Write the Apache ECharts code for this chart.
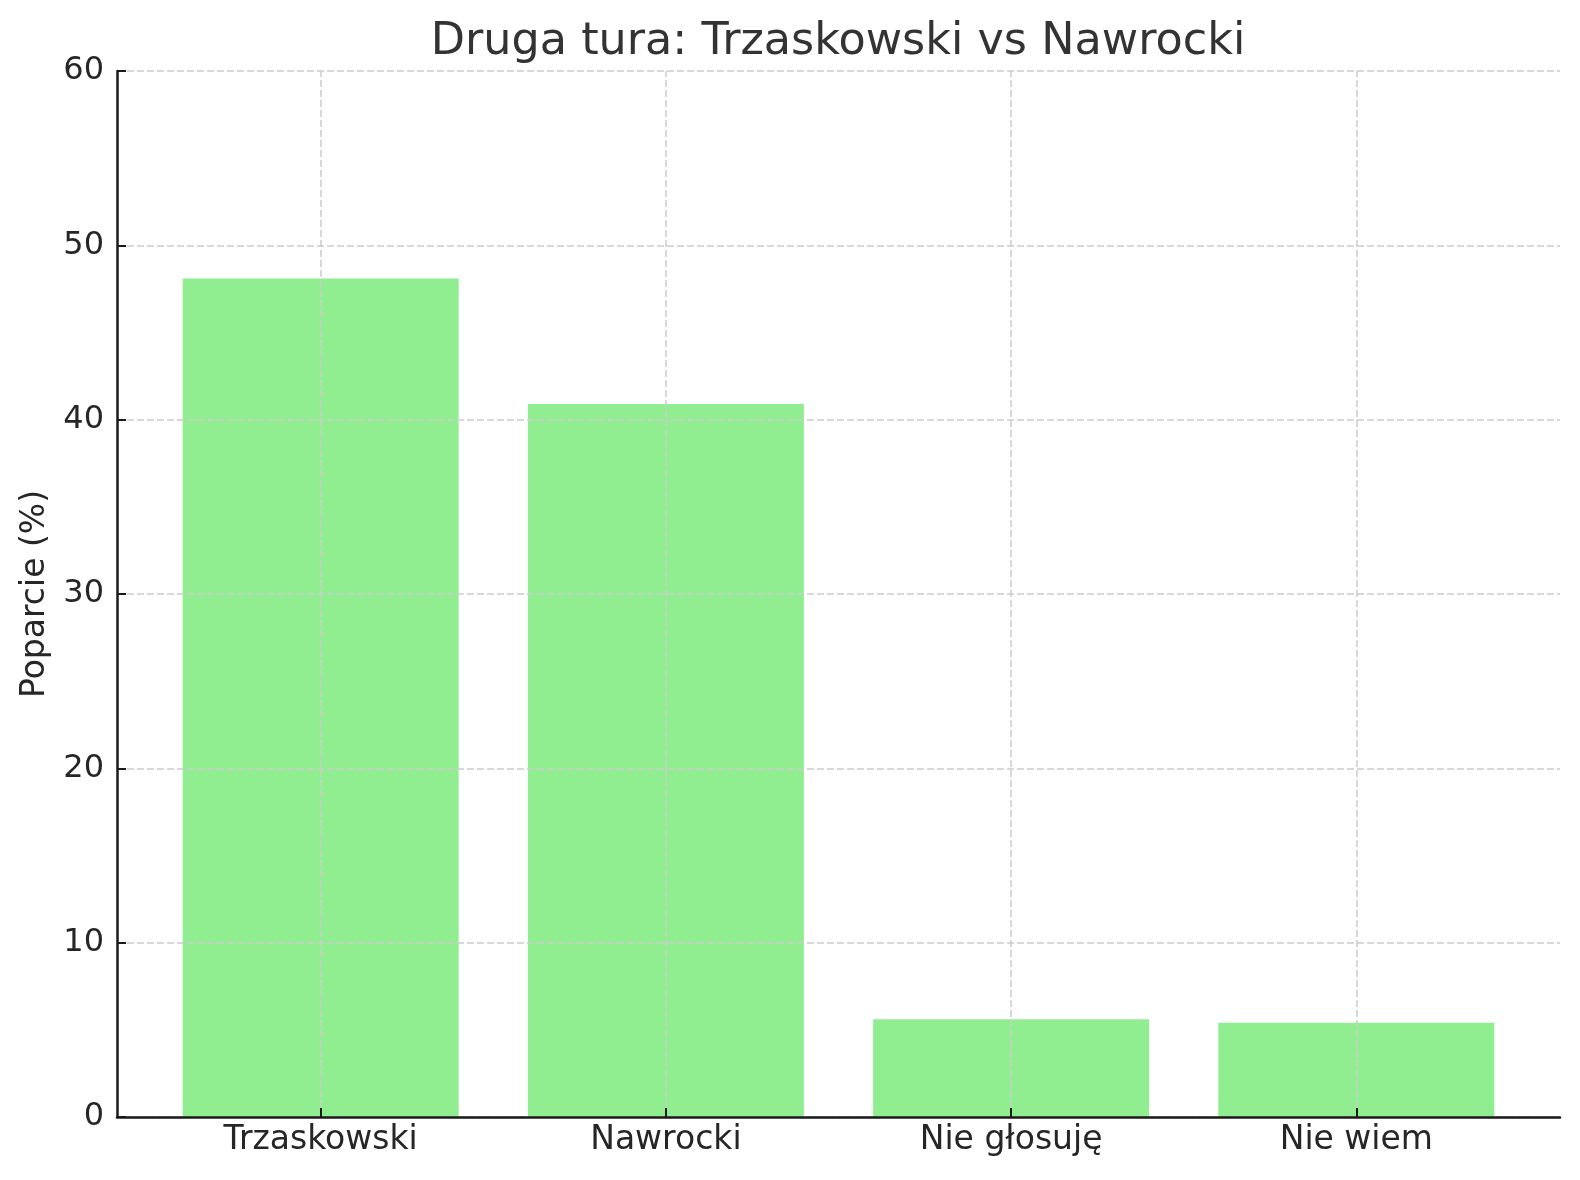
<!DOCTYPE html>
<html>
<head>
<meta charset="utf-8">
<script src="https://cdn.jsdelivr.net/npm/echarts@6/dist/echarts.min.js"></script>
<style>
html,body{margin:0;padding:0;background:#fff;}
#chart{width:1580px;height:1180px;}
</style>
</head>
<body>
<div id="chart"></div>
<script>
const titleText = 'Druga tura: Trzaskowski vs Nawrocki';
const yAxisName = 'Poparcie (%)';
const categories = ['Trzaskowski', 'Nawrocki', 'Nie głosuję', 'Nie wiem'];
const support = [48.1, 40.9, 5.6, 5.4];
const yTicks = [0, 10, 20, 30, 40, 50, 60];

const positions = categories.map((c, i) => i);
const FONT = 'DejaVu Sans';
const gridStyle = { color: '#cccccc', width: 1.5, type: [7, 3] };
const axisColor = '#1a1a1a';

const chart = echarts.init(document.getElementById('chart'), null, { renderer: 'canvas' });
chart.setOption({
  backgroundColor: '#ffffff',
  animation: false,
  title: {
    text: titleText,
    left: 833,
    top: 15,
    textAlign: 'center',
    textStyle: { fontFamily: FONT, fontSize: 44.5, fontWeight: 'normal', color: '#333333' }
  },
  grid: { left: 117, right: 20, top: 71, bottom: 63, containLabel: false },
  xAxis: {
    type: 'value',
    min: -0.59,
    max: 3.59,
    z: 6,
    axisLine: { show: true, onZero: false, lineStyle: { color: axisColor, width: 2.5 } },
    axisTick: { show: true, inside: true, length: 9, customValues: positions, lineStyle: { color: axisColor, width: 2 } },
    axisLabel: {
      show: true,
      customValues: positions,
      margin: 7,
      fontFamily: FONT, fontSize: 33, color: '#262626',
      formatter: v => categories[Math.round(v)] ?? ''
    },
    splitLine: { show: false }
  },
  yAxis: {
    type: 'value',
    min: yTicks[0],
    max: yTicks[yTicks.length - 1],
    interval: 10,
    z: 5,
    name: yAxisName,
    nameLocation: 'middle',
    nameGap: 65,
    nameRotate: 90,
    nameTextStyle: { fontFamily: FONT, fontSize: 33, color: '#262626' },
    axisLine: { show: true, onZero: false, lineStyle: { color: axisColor, width: 2.5 } },
    axisTick: { show: true, inside: true, length: 9, lineStyle: { color: axisColor, width: 2 } },
    axisLabel: { margin: 13, fontFamily: FONT, fontSize: 32, color: '#262626' },
    splitLine: { show: true, lineStyle: gridStyle }
  },
  series: [
    {
      type: 'bar',
      z: 2,
      barWidth: 276,
      itemStyle: { color: '#90ee90' },
      data: support.map((v, i) => [positions[i], v])
    },
    {
      type: 'line',
      z: 4,
      data: [],
      markLine: {
        silent: true,
        symbol: ['none', 'none'],
        label: { show: false },
        lineStyle: gridStyle,
        emphasis: { disabled: true },
        data: positions.map(p => ({ xAxis: p }))
      }
    }
  ]
});
</script>
</body>
</html>
